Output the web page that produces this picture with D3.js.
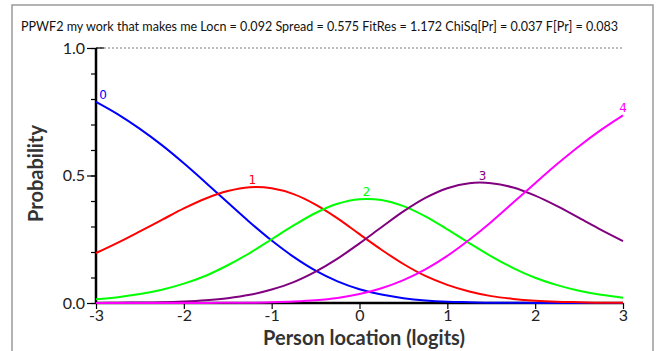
<!DOCTYPE html>
<html><head><meta charset="utf-8">
<script src="https://cdn.jsdelivr.net/npm/d3@7"></script>
<style>body{margin:0;background:#fff}svg{display:block}</style>
</head><body>
<svg id="c" width="660" height="351"></svg>
<script>
const titleText = "PPWF2 my work that makes me Locn = 0.092 Spread = 0.575 FitRes = 1.172 ChiSq[Pr] = 0.037 F[Pr] = 0.083";
const xLabel = "Person location (logits)";
const yLabel = "Probability";
const xTicks = [-3,-2,-1,0,1,2,3];
const yTicks = [0.0,0.5,1.0];
const categories = ["0","1","2","3","4"];
const colors = ["#0000ff","#ff0000","#00ff00","#800080","#ff00ff"];
const locations = [-3,-2.75,-2.5,-2.25,-2,-1.75,-1.5,-1.25,-1,-0.75,-0.5,-0.25,0,0.25,0.5,0.75,1,1.25,1.5,1.75,2,2.25,2.5,2.75,3];
const cat0 = [0.789,0.740,0.683,0.619,0.548,0.472,0.394,0.317,0.245,0.181,0.127,0.085,0.054,0.033,0.019,0.010,0.005,0.003,0.001,0.001,0.000,0.000,0.000,0.000,0.000];
const cat1 = [0.196,0.237,0.281,0.326,0.371,0.410,0.439,0.454,0.450,0.427,0.386,0.332,0.270,0.209,0.153,0.106,0.071,0.045,0.027,0.016,0.009,0.005,0.003,0.001,0.001];
const cat2 = [0.015,0.023,0.035,0.052,0.076,0.107,0.148,0.196,0.250,0.304,0.353,0.389,0.407,0.404,0.380,0.340,0.289,0.235,0.183,0.137,0.099,0.070,0.048,0.032,0.021];
const cat3 = [0.000,0.001,0.002,0.003,0.006,0.011,0.019,0.032,0.053,0.082,0.123,0.174,0.234,0.297,0.359,0.412,0.450,0.470,0.470,0.453,0.421,0.380,0.334,0.287,0.243];
const cat4 = [0.000,0.000,0.000,0.000,0.000,0.000,0.001,0.001,0.003,0.006,0.011,0.020,0.035,0.058,0.090,0.132,0.185,0.248,0.318,0.394,0.470,0.545,0.615,0.679,0.736];
const series = [cat0,cat1,cat2,cat3,cat4];
const labelAt = [-3,-1.22,0.08,1.4,3];

const svg = d3.select("#c");
const font = "Lato, 'Open Sans', sans-serif";
const x = d3.scaleLinear().domain([-3,3]).range([96,623]);
const y = d3.scaleLinear().domain([0,1]).range([303,48]);

function fitText(sel, base, width){
  const w = sel.node().getComputedTextLength();
  sel.attr("font-size", base*width/w);
}

// frame
svg.append("rect").attr("x",12).attr("y",5).attr("width",641).attr("height",360)
  .attr("fill","none").attr("stroke","#9a9a9a").attr("stroke-width",1.5);

// title
const t = svg.append("text").attr("x",21).attr("y",31).attr("font-family",font)
  .attr("font-size",12).attr("fill","#111").text(titleText);
fitText(t,12,598);

// dotted top line
svg.append("line").attr("x1",x(-3)).attr("x2",x(3)).attr("y1",y(1)).attr("y2",y(1))
  .attr("stroke","#777").attr("stroke-width",1).attr("stroke-dasharray","2,2");

// y axis
const yAxis = d3.axisLeft(y).tickValues(d3.range(0,1.0001,0.1)).tickSize(5).tickFormat("");
const gy = svg.append("g").attr("transform",`translate(${x(-3)},0)`).call(yAxis);
gy.select(".domain").remove();
gy.selectAll(".tick line").attr("stroke","#000").attr("stroke-width",1.2);
const yMaj = d3.axisLeft(y).tickValues(yTicks).tickSize(9).tickPadding(2).tickFormat(d3.format(".1f"));
const gy2 = svg.append("g").attr("transform",`translate(${x(-3)},0)`).call(yMaj);
gy2.select(".domain").remove();
gy2.selectAll(".tick line").attr("stroke","#000").attr("stroke-width",1.2);
gy2.selectAll(".tick text").attr("font-family",font).attr("font-size",16).attr("fill","#222");
svg.append("line").attr("x1",x(-3)).attr("x2",x(-3)+8).attr("y1",y(1)).attr("y2",y(1))
  .attr("stroke","#000").attr("stroke-width",1.2);
svg.append("line").attr("x1",x(-3)).attr("x2",x(-3)).attr("y1",y(1)).attr("y2",y(0)+1)
  .attr("stroke","#000").attr("stroke-width",2.5);

// x axis
const xAxis = d3.axisBottom(x).tickValues(xTicks).tickSize(6).tickPadding(1).tickFormat(d3.format("d"));
const gx = svg.append("g").attr("transform",`translate(0,${y(0)})`).call(xAxis);
gx.select(".domain").attr("stroke","#000").attr("stroke-width",2.5).attr("d",`M${x(-3)},0H${x(3)}`);
gx.selectAll(".tick line").attr("stroke","#000").attr("stroke-width",1.2);
gx.selectAll(".tick text").attr("font-family",font).attr("font-size",16).attr("fill","#222")
  .text(d => d < 0 ? "-" + Math.abs(d) : d);

// curves
const line = d3.line().x((d,i)=>x(locations[i])).y(d=>y(d)).curve(d3.curveCatmullRom);
series.forEach((s,k)=>{
  svg.append("path").datum(s).attr("d",line).attr("fill","none")
    .attr("stroke",colors[k]).attr("stroke-width",2);
});
// labels
series.forEach((s,k)=>{
  const lx = labelAt[k];
  let i = d3.bisectLeft(locations, lx); i = Math.min(i, locations.length-1);
  let v;
  if (i===0) v = s[0]; else {
    const f = (lx-locations[i-1])/(locations[i]-locations[i-1]);
    v = s[i-1] + f*(s[i]-s[i-1]);
  }
  svg.append("text").attr("x", x(lx) + (k===0?7:0)).attr("y", y(v)-3)
    .attr("text-anchor","middle").attr("font-family","'DejaVu Sans', sans-serif")
    .attr("font-size",12).attr("fill",colors[k]).text(categories[k]);
});

// axis titles
const xl = svg.append("text").attr("x",364).attr("y",345).attr("text-anchor","middle")
  .attr("font-family",font).attr("font-weight","bold").attr("font-size",18).attr("fill","#333").text(xLabel);
fitText(xl,18,202);
const yl = svg.append("text").attr("transform",`translate(43,${y(0.5)-2}) rotate(-90)`).attr("text-anchor","middle")
  .attr("font-family",font).attr("font-weight","bold").attr("font-size",18).attr("fill","#333").text(yLabel);
fitText(yl,18,97);
</script>
</body></html>
